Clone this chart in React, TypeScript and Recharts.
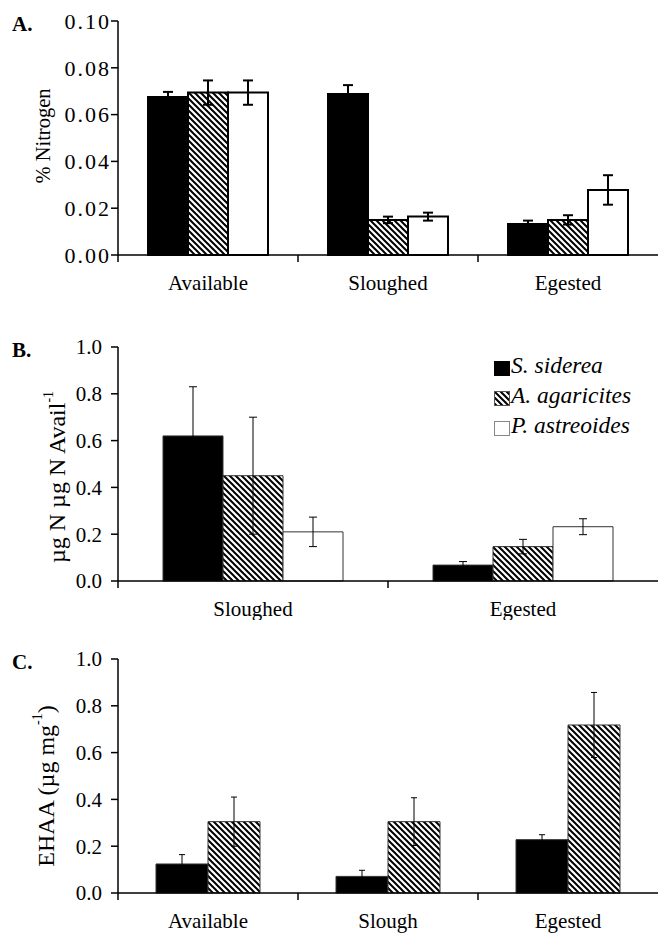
import React from "react";
import { BarChart, Bar, XAxis, YAxis, ErrorBar, Legend } from "recharts";

const FONT = "'Liberation Serif', 'Times New Roman', Times, serif";

// A. % nitrogen
const categoriesA = ["Available", "Sloughed", "Egested"];
const sidereaA = [0.0675, 0.0688, 0.0132];
const sidereaErrA = [0.0022, 0.0038, 0.0015];
const agaricitesA = [0.0694, 0.015, 0.015];
const agaricitesErrA = [0.0052, 0.0014, 0.002];
const astreoidesA = [0.0694, 0.0164, 0.0278];
const astreoidesErrA = [0.0052, 0.0017, 0.0063];
const ticksA = [0, 0.02, 0.04, 0.06, 0.08, 0.1];

// B. ug N per ug N available
const categoriesB = ["Sloughed", "Egested"];
const sidereaB = [0.62, 0.068];
const sidereaErrB = [0.21, 0.015];
const agaricitesB = [0.45, 0.147];
const agaricitesErrB = [0.25, 0.031];
const astreoidesB = [0.21, 0.232];
const astreoidesErrB = [0.063, 0.034];

// C. EHAA
const categoriesC = ["Available", "Slough", "Egested"];
const sidereaC = [0.124, 0.071, 0.228];
const sidereaErrC = [0.04, 0.026, 0.021];
const agaricitesC = [0.305, 0.305, 0.718];
const agaricitesErrC = [0.105, 0.102, 0.139];
const ticksBC = [0, 0.2, 0.4, 0.6, 0.8, 1];

const seriesNames = ["S. siderea", "A. agaricites", "P. astreoides"];

const rowsA = categoriesA.map((name, i) => ({
  name,
  siderea: sidereaA[i],
  sidereaErr: sidereaErrA[i],
  agaricites: agaricitesA[i],
  agaricitesErr: agaricitesErrA[i],
  astreoides: astreoidesA[i],
  astreoidesErr: astreoidesErrA[i],
}));

const rowsB = categoriesB.map((name, i) => ({
  name,
  siderea: sidereaB[i],
  sidereaErr: sidereaErrB[i],
  agaricites: agaricitesB[i],
  agaricitesErr: agaricitesErrB[i],
  astreoides: astreoidesB[i],
  astreoidesErr: astreoidesErrB[i],
}));

const rowsC = categoriesC.map((name, i) => ({
  name,
  siderea: sidereaC[i],
  sidereaErr: sidereaErrC[i],
  agaricites: agaricitesC[i],
  agaricitesErr: agaricitesErrC[i],
}));

// label in the middle of the category, tick mark on the category boundary
function CategoryTick(props: any) {
  const { x, y, payload, width, visibleTicksCount } = props;
  const half =
    width && visibleTicksCount ? width / visibleTicksCount / 2 : payload.offset ?? 0;
  return (
    <g>
      <line x1={x - half} x2={x - half} y1={y} y2={y + 7} stroke="#000" strokeWidth={1.5} />
      <text x={x} y={y + 35} textAnchor="middle" fontFamily={FONT} fontSize={21} fill="#000">
        {payload.value}
      </text>
    </g>
  );
}

function axisTitle(letter: string, cx: number, dy: number, size: number, parts: React.ReactNode) {
  return (props: any) => {
    const vb = props.viewBox || { x: 0, y: 0, width: 0, height: 0 };
    const cy = vb.y + vb.height / 2 + dy;
    return (
      <g>
        <text x={12} y={vb.y + 10} fontFamily={FONT} fontWeight="bold" fontSize={21} fill="#000">
          {letter}
        </text>
        <text
          transform={`translate(${cx},${cy}) rotate(-90)`}
          textAnchor="middle"
          dominantBaseline="central"
          fontFamily={FONT}
          fontSize={size}
          fill="#000"
        >
          {parts}
        </text>
      </g>
    );
  };
}

function SpeciesLegend() {
  const swatches = [
    { fill: "#000", stroke: "#000" },
    { fill: "url(#hatch)", stroke: "#555" },
    { fill: "#fff", stroke: "#888" },
  ];
  return (
    <div style={{ fontFamily: FONT, fontSize: 23.5, fontStyle: "italic", lineHeight: "30px", color: "#000" }}>
      {seriesNames.map((s, i) => (
        <div key={s} style={{ whiteSpace: "nowrap" }}>
          <svg width={16} height={15} style={{ verticalAlign: "-3px", marginRight: 1 }}>
            <rect x={0.5} y={0.5} width={15} height={14} fill={swatches[i].fill} stroke={swatches[i].stroke} />
          </svg>
          {s}
        </div>
      ))}
    </div>
  );
}

const tickA = { fontFamily: FONT, fontSize: 22, fill: "#000", letterSpacing: 2 };
const tickBC = { fontFamily: FONT, fontSize: 21, fill: "#000" };
const axisStroke = { stroke: "#000", strokeWidth: 1.5 };

export default function App() {
  return (
    <div style={{ position: "absolute", left: 0, top: 0, width: 658, height: 935, background: "#fff" }}>
      <svg width={0} height={0} style={{ position: "absolute" }}>
        <defs>
          <pattern id="hatch" patternUnits="userSpaceOnUse" width={6} height={6}>
            <rect width={6} height={6} fill="#fff" />
            <path d="M0,0 L6,6 M-1,5 L1,7 M5,-1 L7,1" stroke="#000" strokeWidth={2} />
          </pattern>
        </defs>
      </svg>

      {/* A */}
      <div style={{ position: "absolute", left: 0, top: 0 }}>
        <BarChart width={658} height={300} data={rowsA} margin={{ top: 21, right: 0, bottom: 0, left: 0 }} barGap={0} barSize={40}>
          <XAxis dataKey="name" height={45} interval={0} tickLine={false} tickSize={0} tickMargin={0} axisLine={axisStroke} tick={<CategoryTick />} />
          <YAxis
            width={118}
            domain={[0, 0.1]}
            ticks={ticksA}
            interval={0}
            tickSize={7}
            tickMargin={0}
            tick={tickA}
            axisLine={axisStroke}
            tickLine={axisStroke}
            tickFormatter={(v: number) => v.toFixed(2)}
            label={axisTitle("A.", 43, -2, 20.5, "% Nitrogen")}
          />
          <Bar dataKey="siderea" fill="#000" stroke="#000" strokeWidth={2} isAnimationActive={false}>
            <ErrorBar dataKey="sidereaErr" width={5} strokeWidth={2} stroke="#000" direction="y" isAnimationActive={false} />
          </Bar>
          <Bar dataKey="agaricites" fill="url(#hatch)" stroke="#000" strokeWidth={2} isAnimationActive={false}>
            <ErrorBar dataKey="agaricitesErr" width={5} strokeWidth={2} stroke="#000" direction="y" isAnimationActive={false} />
          </Bar>
          <Bar dataKey="astreoides" fill="#fff" stroke="#000" strokeWidth={2} isAnimationActive={false}>
            <ErrorBar dataKey="astreoidesErr" width={5} strokeWidth={2} stroke="#000" direction="y" isAnimationActive={false} />
          </Bar>
        </BarChart>
      </div>

      {/* B */}
      <div style={{ position: "absolute", left: 0, top: 300 }}>
        <BarChart width={658} height={320} data={rowsB} margin={{ top: 47, right: 0, bottom: 0, left: 0 }} barGap={0} barSize={60}>
          <XAxis dataKey="name" height={39} interval={0} tickLine={false} tickSize={0} tickMargin={0} axisLine={axisStroke} tick={<CategoryTick />} />
          <YAxis
            width={118}
            domain={[0, 1]}
            ticks={ticksBC}
            interval={0}
            tickSize={7}
            tickMargin={9}
            tick={tickBC}
            axisLine={axisStroke}
            tickLine={axisStroke}
            tickFormatter={(v: number) => v.toFixed(1)}
            label={axisTitle(
              "B.",
              57,
              13,
              24,
              <>
                µg N µg N Avail
                <tspan dy={-9} fontSize={14}>
                  -1
                </tspan>
              </>
            )}
          />
          <Legend layout="vertical" align="center" verticalAlign="middle" content={<SpeciesLegend />} wrapperStyle={{ left: 494, top: 50, width: 164 }} />
          <Bar dataKey="siderea" fill="#000" stroke="#333" strokeWidth={1} isAnimationActive={false}>
            <ErrorBar dataKey="sidereaErr" width={4} strokeWidth={1} stroke="#000" direction="y" isAnimationActive={false} />
          </Bar>
          <Bar dataKey="agaricites" fill="url(#hatch)" stroke="#333" strokeWidth={1} isAnimationActive={false}>
            <ErrorBar dataKey="agaricitesErr" width={4} strokeWidth={1} stroke="#000" direction="y" isAnimationActive={false} />
          </Bar>
          <Bar dataKey="astreoides" fill="#fff" stroke="#333" strokeWidth={1} isAnimationActive={false}>
            <ErrorBar dataKey="astreoidesErr" width={4} strokeWidth={1} stroke="#000" direction="y" isAnimationActive={false} />
          </Bar>
        </BarChart>
      </div>

      {/* C */}
      <div style={{ position: "absolute", left: 0, top: 620 }}>
        <BarChart width={658} height={315} data={rowsC} margin={{ top: 39, right: 0, bottom: 0, left: 0 }} barGap={0} barSize={52}>
          <XAxis dataKey="name" height={42} interval={0} tickLine={false} tickSize={0} tickMargin={0} axisLine={axisStroke} tick={<CategoryTick />} />
          <YAxis
            width={118}
            domain={[0, 1]}
            ticks={ticksBC}
            interval={0}
            tickSize={7}
            tickMargin={9}
            tick={tickBC}
            axisLine={axisStroke}
            tickLine={axisStroke}
            tickFormatter={(v: number) => v.toFixed(1)}
            label={axisTitle(
              "C.",
              46,
              10,
              24,
              <>
                EHAA (µg mg
                <tspan dy={-9} fontSize={14}>
                  -1
                </tspan>
                <tspan dy={9}>)</tspan>
              </>
            )}
          />
          <Bar dataKey="siderea" fill="#000" stroke="#333" strokeWidth={1} isAnimationActive={false}>
            <ErrorBar dataKey="sidereaErr" width={3} strokeWidth={1} stroke="#000" direction="y" isAnimationActive={false} />
          </Bar>
          <Bar dataKey="agaricites" fill="url(#hatch)" stroke="#333" strokeWidth={1} isAnimationActive={false}>
            <ErrorBar dataKey="agaricitesErr" width={3} strokeWidth={1} stroke="#000" direction="y" isAnimationActive={false} />
          </Bar>
        </BarChart>
      </div>
    </div>
  );
}
